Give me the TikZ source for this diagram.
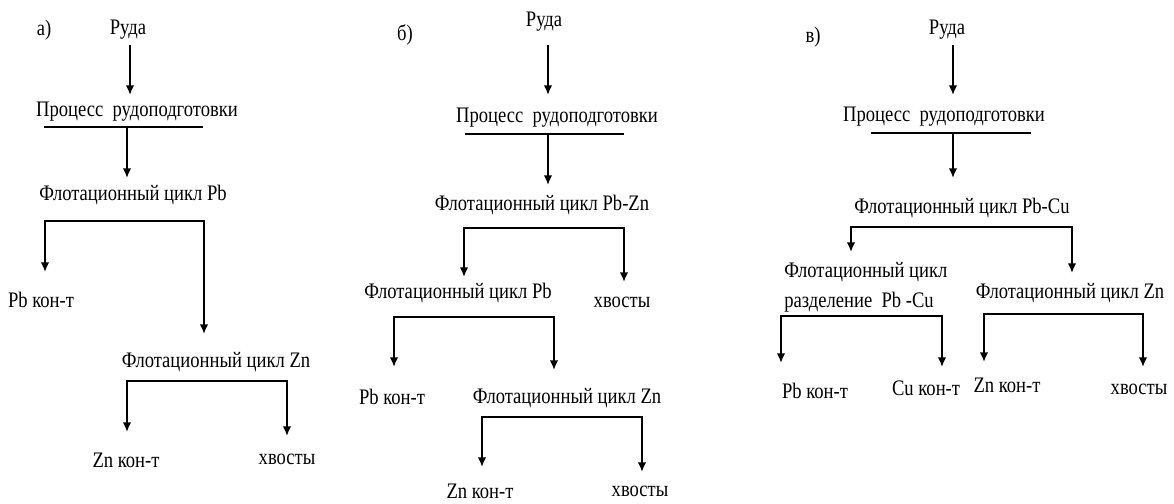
\documentclass[tikz,border=0pt]{standalone}
\usepackage{fontspec}
\setmainfont{Liberation Serif}[FakeStretch=0.84]
\usepackage{tikz}
\usetikzlibrary{arrows.meta}
\tikzset{
  lab/.style={font=\fontsize{12.6}{17}\selectfont, inner sep=0pt},
  arr/.style={draw=black, line width=0.95pt, -{Latex[length=5.5pt,width=4.8pt]}},
  bar/.style={draw=black, line width=1.3pt}
}

\begin{document}
\begin{tikzpicture}[x=0.02cm, y=-0.02cm]
  \useasboundingbox (0,0) rectangle (1174,504);

  % a)
  \node[lab] (tagA) at (44,30) {а)};
  \node[lab] (oreA) at (128,30) {Руда};
  \node[lab] (prepA) at (137,112) {Процесс\ \ рудоподготовки};
  \node[lab] (flotA) at (133,195) {Флотационный цикл Pb};
  \node[lab] (pbkA) at (41,300) {Pb кон-т};
  \node[lab] (znA) at (216,362) {Флотационный цикл Zn};
  \node[lab] (znkA) at (126,460) {Zn кон-т};
  \node[lab] (tailA) at (287,459) {хвосты};

  \coordinate (oA1) at (130,45);  \coordinate (oA2) at (130,95);
  \coordinate (uA1) at (44,127);  \coordinate (uA2) at (203,127);
  \coordinate (uAm) at (127,127); \coordinate (uAt) at (127,178);
  \coordinate (mA1) at (125,221); \coordinate (tA1) at (45,272);  \coordinate (tA2) at (204,334);
  \coordinate (mA2) at (207,381); \coordinate (tA3) at (127,432); \coordinate (tA4) at (287,436);

  \draw[arr] (oA1) -- (oA2);
  \draw[bar] (uA1) -- (uA2);
  \draw[arr] (uAm) -- (uAt);
  \draw[arr] (mA1) -| (tA1);
  \draw[arr] (mA1) -| (tA2);
  \draw[arr] (mA2) -| (tA3);
  \draw[arr] (mA2) -| (tA4);

  % b)
  \node[lab] (tagB) at (405,35) {б)};
  \node[lab] (oreB) at (544,22) {Руда};
  \node[lab] (prepB) at (557,118) {Процесс\ \ рудоподготовки};
  \node[lab] (flotB) at (542,205) {Флотационный цикл Pb-Zn};
  \node[lab] (pbB) at (458,293) {Флотационный цикл Pb};
  \node[lab] (tailB1) at (622,302) {хвосты};
  \node[lab] (pbkB) at (392,397) {Pb кон-т};
  \node[lab] (znB) at (567,398) {Флотационный цикл Zn};
  \node[lab] (znkB) at (480,491) {Zn кон-т};
  \node[lab] (tailB2) at (640,491) {хвосты};

  \coordinate (oB1) at (548,45);  \coordinate (oB2) at (548,95);
  \coordinate (uB1) at (465,134); \coordinate (uB2) at (624,134);
  \coordinate (uBm) at (548,134); \coordinate (uBt) at (548,185);
  \coordinate (mB1) at (544,228); \coordinate (tB1) at (464,277); \coordinate (tB2) at (624,282);
  \coordinate (mB2) at (474,317); \coordinate (tB3) at (394,367); \coordinate (tB4) at (554,370);
  \coordinate (mB3) at (562,417); \coordinate (tB5) at (482,467); \coordinate (tB6) at (642,472);

  \draw[arr] (oB1) -- (oB2);
  \draw[bar] (uB1) -- (uB2);
  \draw[arr] (uBm) -- (uBt);
  \draw[arr] (mB1) -| (tB1);
  \draw[arr] (mB1) -| (tB2);
  \draw[arr] (mB2) -| (tB3);
  \draw[arr] (mB2) -| (tB4);
  \draw[arr] (mB3) -| (tB5);
  \draw[arr] (mB3) -| (tB6);

  % в)
  \node[lab] (tagC) at (813,37) {в)};
  \node[lab] (oreC) at (947,30) {Руда};
  \node[lab] (prepC) at (944,117) {Процесс\ \ рудоподготовки};
  \node[lab] (flotC) at (962,208) {Флотационный цикл Pb-Cu};
  \node[lab, anchor=west, align=left] (sepC) at (784,287) {Флотационный цикл\\разделение\ \ Pb -Cu};
  \node[lab] (znC) at (1070,293) {Флотационный цикл Zn};
  \node[lab] (pbkC) at (815,391) {Pb кон-т};
  \node[lab] (cukC) at (926,388) {Cu кон-т};
  \node[lab] (znkC) at (1007,385) {Zn кон-т};
  \node[lab] (tailC) at (1139,389) {хвосты};

  \coordinate (oC1) at (953,45);  \coordinate (oC2) at (953,95);
  \coordinate (uC1) at (871,133); \coordinate (uC2) at (1031,133);
  \coordinate (uCm) at (953,133); \coordinate (uCt) at (953,178);
  \coordinate (mC1) at (961,227); \coordinate (tC1) at (851,252);  \coordinate (tC2) at (1072,273);
  \coordinate (mC2) at (861,316); \coordinate (tC3) at (781,363);  \coordinate (tC4) at (942,367);
  \coordinate (mC3) at (1063,314); \coordinate (tC5) at (984,362); \coordinate (tC6) at (1143,367);

  \draw[arr] (oC1) -- (oC2);
  \draw[bar] (uC1) -- (uC2);
  \draw[arr] (uCm) -- (uCt);
  \draw[arr] (mC1) -| (tC1);
  \draw[arr] (mC1) -| (tC2);
  \draw[arr] (mC2) -| (tC3);
  \draw[arr] (mC2) -| (tC4);
  \draw[arr] (mC3) -| (tC5);
  \draw[arr] (mC3) -| (tC6);
\end{tikzpicture}
\end{document}
